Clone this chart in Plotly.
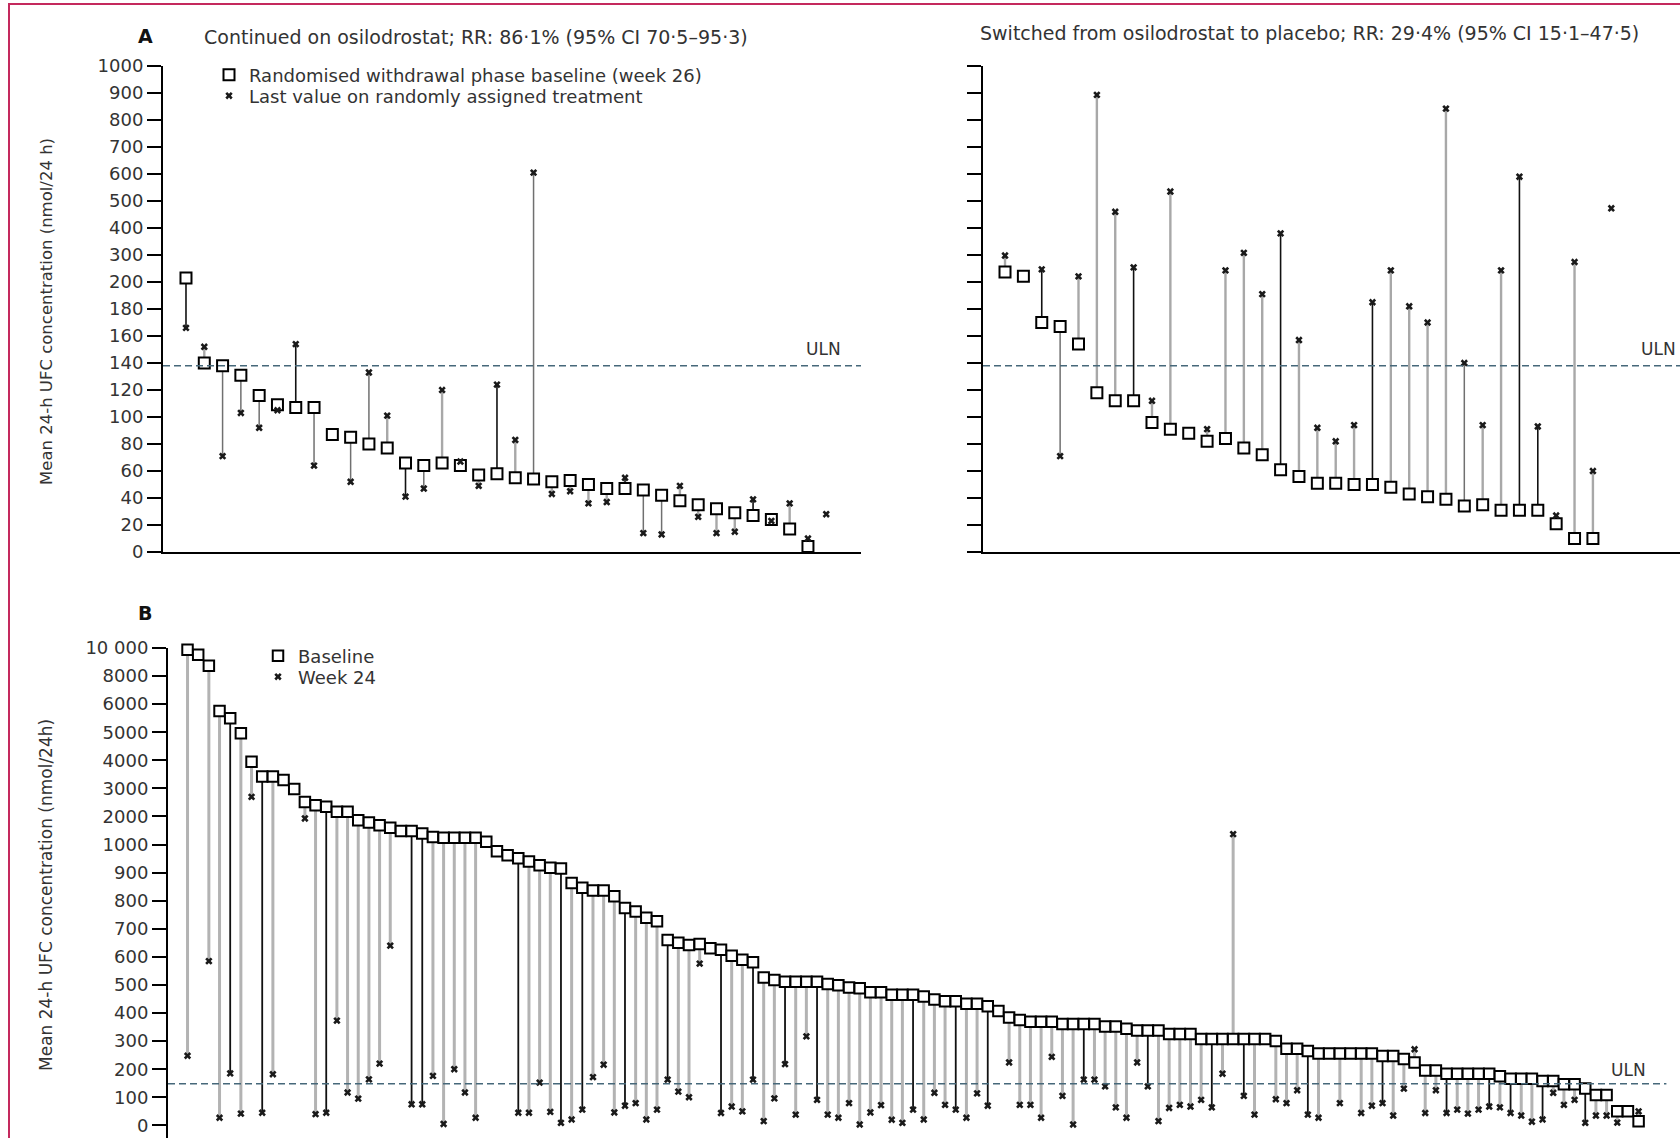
import numpy as np
import plotly.graph_objects as go

W, H = 1680, 1138

# ---------------- data ----------------
# Panel A, left: continued on osilodrostat (one entry per patient)
a_cont_base = [215, 140, 138, 131, 116, 109, 107, 107, 87, 85, 80, 77, 66, 64, 66, 64, 57, 58,
               55, 54, 52, 53, 50, 47, 47, 46, 42, 38, 35, 32, 29, 27, 24, 17, 4, None]
a_cont_last = [166, 152, 71, 103, 92, 105, 154, 64, None, 52, 133, 101, 41, 47, 120, 67, 49, 124,
               83, 605, 43, 45, 36, 37, 55, 14, 13, 49, 26, 14, 15, 39, 23, 36, 10, 28]
# connector style: 0 light grey, 1 black, 2 mid grey
a_cont_style = [1, 0, 2, 2, 2, 0, 1, 2, 0, 2, 2, 0, 1, 2, 0, 0, 0, 1,
                0, 2, 0, 0, 0, 0, 1, 2, 2, 0, 0, 0, 0, 1, 0, 0, 1, 0]

# Panel A, right: switched from osilodrostat to placebo
a_plac_base = [237, 221, 170, 167, 154, 118, 112, 112, 96, 91, 88, 82, 84, 77, 72, 61, 56,
               51, 51, 50, 50, 48, 43, 41, 39, 34, 35, 31, 31, 31, 21, 10, 10, None]
a_plac_last = [298, None, 247, 71, 221, 893, 460, 254, 112, 535, None, 91, 243, 308, 191, 380, 157,
               92, 82, 94, 185, 243, 182, 170, 842, 140, 94, 243, 590, 93, 27, 274, 60, 473]
a_plac_style = [0, 0, 1, 2, 0, 0, 0, 1, 0, 0, 0, 0, 0, 0, 0, 1, 0,
                0, 0, 0, 1, 0, 0, 0, 0, 2, 0, 0, 1, 1, 0, 0, 0, 0]

# Panel B: baseline and week 24
b_base = [9880, 9520, 8740, 5760, 5500, 4960, 3950, 3420, 3420, 3300, 2980, 2520, 2400, 2350,
          2170, 2170, 1870, 1790, 1690, 1600, 1480, 1480, 1390, 1270, 1240, 1240, 1240, 1240,
          1100, 976, 962, 951, 940, 926, 917, 915, 863, 846, 836, 836, 816, 774, 762, 739, 727,
          660, 650, 642, 646, 631, 625, 604, 590, 581, 527, 518, 511, 511, 511, 511, 503, 499,
          491, 488, 474, 474, 465, 465, 465, 459, 448, 442, 442, 433, 433, 424, 407, 384, 375,
          369, 369, 369, 361, 361, 361, 361, 352, 352, 344, 338, 338, 338, 325, 325, 325, 308,
          308, 308, 308, 308, 308, 308, 300, 273, 273, 265, 256, 256, 256, 256, 256, 256, 247,
          247, 236, 224, 195, 195, 184, 184, 184, 184, 184, 175, 166, 166, 166, 158, 158, 146,
          146, 131, 108, 108, 50, 50, 15]
b_week24 = [248, None, 585, 27, 185, 42, 2700, 45, 182, None, None, 1930, 40, 45,
            373, 117, 95, 164, 220, 640, None, 75, 75, 176, 5, 200, 117, 27,
            None, None, None, 45, 45, 152, 48, 9, 21, 56, 172, 216, 46, 70, 79, 21, 56,
            163, 120, 100, 576, None, 44, 67, 50, 163, 15, 96, 218, 38, 317, 91, 38, 27,
            79, 3, 46, 72, 20, 9, 56, 21, 116, 73, 56, 27, 114, 70, None, 224, 73,
            73, 27, 244, 105, 3, 163, 163, 139, 64, 27, 224, 139, 15, 62, 73, 67, 91,
            64, 184, 1370, 105, 38, None, 93, 79, 125, 38, 27, None, 79, None, 44, 70, 79,
            35, 131, 271, 44, 125, 44, 56, 42, 56, 67, 64, 44, 35, 13, 21, 116, 73,
            91, 9, 35, 35, 10, None, 50]
b_black = [4, 7, 13, 21, 22, 31, 35, 37, 41, 45, 50, 53, 56, 59, 68, 72, 75, 84, 90, 96,
           99, 105, 112, 118, 122, 124, 127, 131]
b_style = [1 if i in b_black else 0 for i in range(len(b_base))]

uln_a = 138
uln_b = 148

# broken value scales: equal spacing between the listed tick values
a_ticks = [0, 20, 40, 60, 80, 100, 120, 140, 160, 180, 200, 300, 400, 500, 600, 700, 800, 900, 1000]
b_ticks = [0, 100, 200, 300, 400, 500, 600, 700, 800, 900, 1000, 2000, 3000, 4000, 5000,
           6000, 8000, 10000]
b_tick_text = [f"{t}" if t < 10000 else "10 000" for t in b_ticks]

A_BRK, A_POS = [0, 200, 1000], [0, 10, 18]
B_BRK, B_POS = [0, 1000, 6000, 10000], [0, 10, 15, 17]


def to_pos(v, brk, pos):
    return None if v is None else float(np.interp(v, brk, pos))


# ---------------- styling ----------------
TXT = "#333333"
TEXT_FONT = "DejaVu Sans, sans-serif"
TICK_FONT = "DejaVu Sans, sans-serif"

A_PALETTE = {0: ("#a8a8a8", 2.4), 1: ("#111111", 1.6), 2: ("#707070", 1.5)}
B_PALETTE = {0: ("#b3b3b3", 3.0), 1: ("#111111", 1.8)}

B_TOP_PX = 648          # pixel row of the 10 000 tick
B_RANGE = [-0.45, 17]   # panel B axis range, leaves room for the "0" label


def px(x):
    return x / W


def py(y):
    return 1 - y / H


def b_row(v):
    """Pixel row of a panel-B value, used to place the ULN caption."""
    unit = (H - B_TOP_PX) / (B_RANGE[1] - B_RANGE[0])
    return B_TOP_PX + (B_RANGE[1] - to_pos(v, B_BRK, B_POS)) * unit


fig = go.Figure()


def add_panel(base, last, style, xa, ya, brk, pos, palette, sq_size, names=None, legends=None):
    n = len(base)
    idx = list(range(1, n + 1))
    for s, (color, width) in palette.items():
        xs, ys = [], []
        for i, b, l, st in zip(idx, base, last, style):
            if b is None or l is None or st != s:
                continue
            xs += [i, i, None]
            ys += [to_pos(b, brk, pos), to_pos(l, brk, pos), None]
        fig.add_trace(go.Scatter(x=xs, y=ys, mode="lines", xaxis=xa, yaxis=ya,
                                 line=dict(color=color, width=width),
                                 showlegend=False, hoverinfo="skip"))
    bx = [i for i, b in zip(idx, base) if b is not None]
    by = [to_pos(b, brk, pos) for b in base if b is not None]
    lx = [i for i, l in zip(idx, last) if l is not None]
    ly = [to_pos(l, brk, pos) for l in last if l is not None]
    show = names is not None
    fig.add_trace(go.Scatter(x=bx, y=by, mode="markers", xaxis=xa, yaxis=ya, cliponaxis=False,
                             marker=dict(symbol="square", size=sq_size, color="white",
                                         line=dict(color="black", width=2)),
                             name=names[0] if show else None, showlegend=show,
                             legend=legends[0] if show else None))
    fig.add_trace(go.Scatter(x=lx, y=ly, mode="markers", xaxis=xa, yaxis=ya, cliponaxis=False,
                             marker=dict(symbol="x", size=6.5, color="#1a1a1a",
                                         line=dict(width=0)),
                             name=names[1] if show else None, showlegend=show,
                             legend=legends[1] if show else None))


add_panel(a_cont_base, a_cont_last, a_cont_style, "x", "y", A_BRK, A_POS, A_PALETTE, 11,
          names=["Randomised withdrawal phase baseline (week 26)",
                 "Last value on randomly assigned treatment"], legends=["legend", "legend2"])
add_panel(a_plac_base, a_plac_last, a_plac_style, "x2", "y2", A_BRK, A_POS, A_PALETTE, 11)
add_panel(b_base, b_week24, b_style, "x3", "y3", B_BRK, B_POS, B_PALETTE, 10.5,
          names=["Baseline", "Week 24"], legends=["legend3", "legend4"])

axis_common = dict(showgrid=False, zeroline=False, linecolor="black", linewidth=2,
                   automargin=False)
yaxis_common = dict(axis_common, showline=True, ticks="outside", ticklen=14, tickwidth=2,
                    tickcolor="black", ticklabeloverflow="allow")


def legend_box(x, y):
    return dict(x=px(x), y=py(y), xanchor="left", yanchor="middle", bgcolor="rgba(0,0,0,0)",
                font=dict(family=TEXT_FONT, size=18, color=TXT), borderwidth=0)


a_dom = [py(552), py(66)]
fig.update_layout(
    template="none",
    width=W, height=H, margin=dict(l=0, r=0, t=0, b=0, pad=0, autoexpand=False),
    paper_bgcolor="white", plot_bgcolor="white",
    font=dict(family=TEXT_FONT, color=TXT),
    xaxis=dict(axis_common, domain=[px(163), px(861)], range=[-0.257, 37.9], showline=True,
               showticklabels=False, ticks="", anchor="y"),
    yaxis=dict(yaxis_common, domain=a_dom, range=[0, 18], anchor="x",
               tickfont=dict(family=TICK_FONT, size=18, color=TXT),
               tickvals=[to_pos(t, A_BRK, A_POS) for t in a_ticks],
               ticktext=[str(t) for t in a_ticks]),
    xaxis2=dict(axis_common, domain=[px(983), 1], range=[-0.198, 37.74], showline=True,
                showticklabels=False, ticks="", anchor="y2"),
    yaxis2=dict(yaxis_common, domain=a_dom, range=[0, 18], anchor="x2",
                tickvals=[to_pos(t, A_BRK, A_POS) for t in a_ticks], showticklabels=False),
    xaxis3=dict(axis_common, domain=[px(168), 1], range=[-0.83, 140.88], showline=False,
                showticklabels=False, ticks="", anchor="y3"),
    yaxis3=dict(yaxis_common, domain=[0, py(B_TOP_PX)], range=B_RANGE, anchor="x3",
                tickfont=dict(family=TICK_FONT, size=18, color=TXT),
                tickvals=[to_pos(t, B_BRK, B_POS) for t in b_ticks], ticktext=b_tick_text),
    legend=legend_box(209, 75),
    legend2=legend_box(209, 96),
    legend3=legend_box(258, 656),
    legend4=legend_box(258, 677),
    showlegend=True,
)

dash = "7px,4px"
uln_color = "#46687a"
fig.add_shape(type="line", xref="x domain", yref="y", x0=0, x1=1,
              y0=to_pos(uln_a, A_BRK, A_POS), y1=to_pos(uln_a, A_BRK, A_POS),
              line=dict(color=uln_color, width=1.6, dash=dash))
fig.add_shape(type="line", xref="x2 domain", yref="y2", x0=0, x1=1,
              y0=to_pos(uln_a, A_BRK, A_POS), y1=to_pos(uln_a, A_BRK, A_POS),
              line=dict(color=uln_color, width=1.6, dash=dash))
fig.add_shape(type="line", xref="x3 domain", yref="y3", x0=0, x1=0.991,
              y0=to_pos(uln_b, B_BRK, B_POS), y1=to_pos(uln_b, B_BRK, B_POS),
              line=dict(color=uln_color, width=1.6, dash=dash))

# page frame
fig.add_shape(type="rect", xref="paper", yref="paper", x0=px(9), x1=1.05, y0=-0.05, y1=py(4),
              line=dict(color="#c4295d", width=2), layer="above")


def label(text, x, y, size=17, anchor="left", bold=False, angle=0, color=TXT):
    fig.add_annotation(text=f"<b>{text}</b>" if bold else text, x=px(x), y=py(y),
                       xref="paper", yref="paper", showarrow=False, xanchor=anchor,
                       yanchor="middle", textangle=angle, borderpad=0,
                       font=dict(family=TEXT_FONT, size=size, color=color))


label("A", 145, 36, size=19, anchor="center", bold=True, color="#111")
label("Continued on osilodrostat; RR: 86·1% (95% CI 70·5–95·3)", 203, 37, size=19)
label("Switched from osilodrostat to placebo; RR: 29·4% (95% CI 15·1–47·5)", 979, 33, size=19)
label("B", 145, 613, size=19, anchor="center", bold=True, color="#111")
label("Mean 24-h UFC concentration (nmol/24 h)", 46, 312, size=16.5, anchor="center", angle=-90)
label("Mean 24-h UFC concentration (nmol/24h)", 46, 895, size=17, anchor="center", angle=-90)
label("ULN", 823, 349, anchor="center")
label("ULN", 1640, 349)
label("ULN", 1628, b_row(uln_b) - 14, anchor="center")

fig.write_html("out.html")
